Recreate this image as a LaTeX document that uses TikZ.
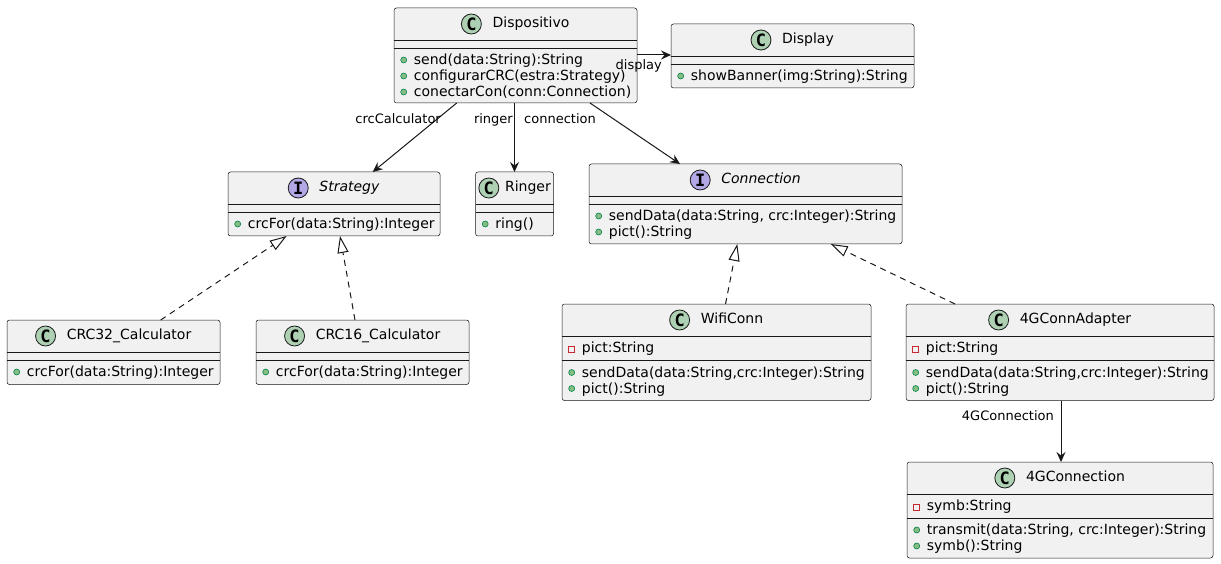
\documentclass[tikz,border=0pt]{standalone}
\usepackage{fontspec}
\setmainfont{DejaVu Sans}
\newfontfamily\iconfont{DejaVu Sans Mono}
\usetikzlibrary{arrows.meta,calc}
\definecolor{boxfill}{HTML}{F1F1F1}
\definecolor{boxline}{HTML}{181818}
\definecolor{cfill}{HTML}{ADD1B2}
\definecolor{ifill}{HTML}{B4A7E5}
\definecolor{pubfill}{HTML}{84BE84}
\definecolor{publine}{HTML}{038048}
\definecolor{privline}{HTML}{C82930}
\tikzset{
  cls/.style={draw=boxline, fill=boxfill, line width=0.5pt, rounded corners=2.5pt, inner sep=0pt, outer sep=0pt, anchor=north west},
  sepline/.style={draw=boxline, line width=0.5pt},
  clsname/.style={font=\fontsize{14}{16}\selectfont, inner sep=0pt, text height=10.5pt, text depth=3pt},
  memtext/.style={font=\fontsize{14}{16}\selectfont, inner sep=0pt, text height=10.5pt, text depth=1.5pt},
  iconletter/.style={font=\iconfont\bfseries\fontsize{17}{17}\selectfont, inner sep=0pt},
  lbl/.style={font=\fontsize{13}{15}\selectfont, inner sep=0pt, text height=10pt, text depth=1pt},
  assoc/.style={draw=boxline, line width=1pt, -{Stealth[length=10pt, width=9pt, inset=3.5pt]}},
  realize/.style={draw=boxline, line width=1pt, dash pattern=on 6pt off 5pt, -{Triangle[open, fill=white, length=17pt, width=11pt]}}
}
\newcommand\umlhead[7]{%
  \node[clsname] (#2) at ($(#1.north)+(#6,16)$) {#5};
  \draw[draw=boxline, fill=#4, line width=0.8pt] ($(#2.west)+(-#7,0)$) circle (10pt);
  \node[iconletter] (#2i) at ($(#2.west)+(-#7,0)$) {#3};
}
\newcommand\umlpub[4]{%
  \filldraw[fill=pubfill, draw=publine, line width=0.6pt] ($(#1.north west)+(9.7,#3)$) circle (3pt);
  \node[memtext, anchor=west] (#2) at ($(#1.north west)+(19.7,#3)$) {#4};
}
\newcommand\umlpriv[4]{%
  \draw[draw=privline, line width=0.8pt] ($(#1.north west)+(6.7,#3)+(0,-2)$) rectangle +(6,6);
  \node[memtext, anchor=west] (#2) at ($(#1.north west)+(19.7,#3)$) {#4};
}
\newcommand\umlsep[2]{%
  \draw[sepline] ($(#1.north west)+(0,#2)$) -- ($(#1.north east)+(0,#2)$);
}
\begin{document}
\begin{tikzpicture}[x=1pt, y=-1pt]
\useasboundingbox[fill=white] (0,0) rectangle (1221,564);

% Dispositivo
\node[cls, minimum width=243pt, minimum height=95pt] (disp) at (394,8) {};
\umlhead{disp}{dispN}{C}{cfill}{Dispositivo}{15.5}{21}
\umlsep{disp}{32}\umlsep{disp}{40}
\umlpub{disp}{dispA}{52}{send(data:String):String}
\umlpub{disp}{dispB}{68}{configurarCRC(estra:Strategy)}
\umlpub{disp}{dispC}{84}{conectarCon(conn:Connection)}

% Display
\node[cls, minimum width=243pt, minimum height=64pt] (displ) at (671,24) {};
\umlhead{displ}{displN}{C}{cfill}{Display}{15.5}{21}
\umlsep{displ}{32}\umlsep{displ}{40}
\umlpub{displ}{displA}{52}{showBanner(img:String):String}

% Strategy
\node[cls, minimum width=212pt, minimum height=64pt] (strat) at (228,172) {};
\umlhead{strat}{stratN}{I}{ifill}{\textit{Strategy}}{15.5}{21}
\umlsep{strat}{32}\umlsep{strat}{40}
\umlpub{strat}{stratA}{52}{crcFor(data:String):Integer}

% Ringer
\node[cls, minimum width=78pt, minimum height=64pt] (ring) at (475.5,172) {};
\umlhead{ring}{ringN}{C}{cfill}{Ringer}{13.4}{16}
\umlsep{ring}{32}\umlsep{ring}{40}
\umlpub{ring}{ringA}{52}{ring()}

% Connection
\node[cls, minimum width=313pt, minimum height=80pt] (conn) at (589,164) {};
\umlhead{conn}{connN}{I}{ifill}{\textit{Connection}}{15.5}{21}
\umlsep{conn}{32}\umlsep{conn}{40}
\umlpub{conn}{connA}{52}{sendData(data:String, crc:Integer):String}
\umlpub{conn}{connB}{68}{pict():String}

% CRC32
\node[cls, minimum width=213pt, minimum height=64.5pt] (crc32) at (7,320) {};
\umlhead{crc32}{crc32N}{C}{cfill}{CRC32\_Calculator}{15.5}{21}
\umlsep{crc32}{32}\umlsep{crc32}{40}
\umlpub{crc32}{crc32A}{52}{crcFor(data:String):Integer}

% CRC16
\node[cls, minimum width=213pt, minimum height=64.5pt] (crc16) at (256,320) {};
\umlhead{crc16}{crc16N}{C}{cfill}{CRC16\_Calculator}{15.5}{21}
\umlsep{crc16}{32}\umlsep{crc16}{40}
\umlpub{crc16}{crc16A}{52}{crcFor(data:String):Integer}

% WifiConn
\node[cls, minimum width=309pt, minimum height=96.5pt] (wifi) at (562,304) {};
\umlhead{wifi}{wifiN}{C}{cfill}{WifiConn}{15.5}{21}
\umlsep{wifi}{32}\umlsep{wifi}{56}
\umlpriv{wifi}{wifiF}{44}{pict:String}
\umlpub{wifi}{wifiA}{68.5}{sendData(data:String,crc:Integer):String}
\umlpub{wifi}{wifiB}{84.5}{pict():String}

% 4GConnAdapter
\node[cls, minimum width=308pt, minimum height=96.5pt] (adapt) at (906,304) {};
\umlhead{adapt}{adaptN}{C}{cfill}{4GConnAdapter}{15.5}{21}
\umlsep{adapt}{32}\umlsep{adapt}{56}
\umlpriv{adapt}{adaptF}{44}{pict:String}
\umlpub{adapt}{adaptA}{68.5}{sendData(data:String,crc:Integer):String}
\umlpub{adapt}{adaptB}{84.5}{pict():String}

% 4GConnection
\node[cls, minimum width=306pt, minimum height=96pt] (gfour) at (907,462) {};
\umlhead{gfour}{gfourN}{C}{cfill}{4GConnection}{15.5}{21}
\umlsep{gfour}{32}\umlsep{gfour}{56}
\umlpriv{gfour}{gfourF}{44}{symb:String}
\umlpub{gfour}{gfourA}{68}{transmit(data:String, crc:Integer):String}
\umlpub{gfour}{gfourB}{84}{symb():String}

% associations
\draw[assoc] ($(disp.south west)+(62.7,0)$) -- ($(strat.north west)+(144.7,0)$);
\draw[assoc] (disp.south -| ring.north) -- (ring.north);
\draw[assoc] ($(disp.south west)+(196,0)$) -- ($(conn.north west)+(91,0)$);
\draw[assoc] ($(disp.north east)+(0,47)$) -- ($(displ.north west)+(0,31)$);
\draw[assoc] ($(adapt.south west)+(155,0)$) -- ($(gfour.north west)+(154,0)$);

% realizations
\draw[realize] ($(crc32.north west)+(153.7,0)$) -- ($(strat.south west)+(58.7,0)$);
\draw[realize] ($(crc16.north west)+(99,0)$) -- ($(strat.south west)+(112,0)$);
\draw[realize] ($(wifi.north west)+(163.5,0)$) -- ($(conn.south west)+(148.3,0)$);
\draw[realize] ($(adapt.north west)+(49,0)$) -- ($(conn.south west)+(241.7,0)$);

% labels
\node[lbl, anchor=east] (lcrc) at (441,119) {crcCalculator};
\node[lbl, anchor=east] (lring) at (513,119) {ringer};
\node[lbl, anchor=west] (lconn) at (524,119) {connection};
\node[lbl, anchor=east] (ldisp) at (662,65) {display};
\node[lbl, anchor=east] (lgfour) at (1054,416) {4GConnection};
\end{tikzpicture}
\end{document}
